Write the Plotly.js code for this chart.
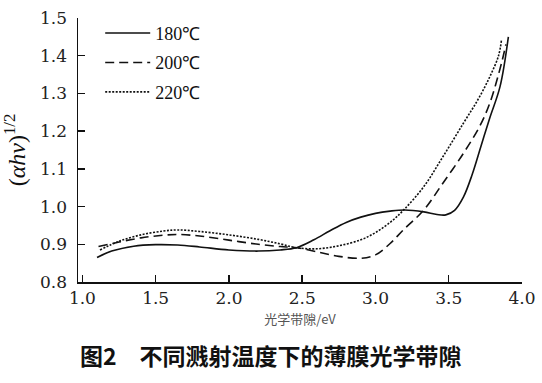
<!DOCTYPE html>
<html><head><meta charset="utf-8">
<script src="https://cdn.plot.ly/plotly-3.0.1.min.js"></script>
<style>html,body{margin:0;padding:0;background:#fff}#chart{width:542px;height:383px}</style>
</head><body><div id="chart"></div>
<script>
// Series: 180 ℃
var x180 = [1.10,1.20,1.35,1.50,1.65,1.80,2.00,2.20,2.35,2.46,2.58,2.69,2.80,2.90,3.00,3.10,3.20,3.33,3.42,3.48,3.54,3.60,3.66,3.72,3.78,3.85,3.907];
var y180 = [0.865,0.882,0.895,0.899,0.898,0.893,0.885,0.882,0.885,0.891,0.912,0.936,0.958,0.972,0.982,0.988,0.991,0.986,0.979,0.978,0.990,1.025,1.085,1.160,1.235,1.318,1.450];
// Series: 200 ℃
var x200 = [1.11,1.25,1.40,1.55,1.65,1.80,2.00,2.20,2.35,2.46,2.60,2.75,2.90,3.00,3.10,3.19,3.33,3.46,3.60,3.71,3.78,3.86,3.89];
var y200 = [0.894,0.906,0.917,0.924,0.926,0.922,0.911,0.900,0.894,0.891,0.880,0.868,0.863,0.872,0.902,0.938,0.991,1.062,1.141,1.212,1.274,1.380,1.430];
// Series: 220 ℃
var x220 = [1.12,1.25,1.40,1.55,1.65,1.80,2.00,2.20,2.35,2.46,2.60,2.75,2.90,3.00,3.10,3.19,3.33,3.46,3.60,3.70,3.78,3.84,3.86];
var y220 = [0.885,0.908,0.925,0.935,0.938,0.934,0.925,0.913,0.901,0.891,0.888,0.896,0.912,0.931,0.958,0.990,1.053,1.132,1.221,1.284,1.344,1.400,1.442];
var seriesNames = ['180\u2103','200\u2103','220\u2103'];
var xTickVals = [1.0,1.5,2.0,2.5,3.0,3.5,4.0];
var yTickVals = [0.8,0.9,1.0,1.1,1.2,1.3,1.4,1.5];
var xTickText = ['1.0','1.5','2.0','2.5','3.0','3.5','4.0'];
var yTickText = ['0.8','0.9','1.0','1.1','1.2','1.3','1.4','1.5'];

var serif = 'Liberation Serif';
function tr(x, y, name, dash, g) {
  return {x: x, y: y, name: name, type: 'scatter', mode: 'lines', legendgroup: g,
    line: {color: '#111', width: 1.6, dash: dash, shape: 'spline', smoothing: 1}};
}
var data = [
  tr(x180, y180, seriesNames[0], 'solid', 'a'),
  tr(x200, y200, seriesNames[1], '9px,5px', 'b'),
  tr(x220, y220, seriesNames[2], '2px,1.5px', 'c')
];
var layout = {
  width: 542, height: 383,
  font: {family: serif, size: 20, color: '#222'},
  margin: {l: 78, r: 20, t: 18, b: 101},
  paper_bgcolor: '#fff', plot_bgcolor: '#fff',
  showlegend: true,
  legend: {x: 0.05, y: 1.012, xanchor: 'left', yanchor: 'top', bgcolor: 'rgba(0,0,0,0)',
    traceorder: 'grouped', tracegroupgap: 3, itemwidth: 45,
    font: {family: serif, size: 18, color: '#111'}},
  xaxis: {range: [0.97, 4.0], tickmode: 'array', tickvals: xTickVals, ticktext: xTickText,
    showline: true, linecolor: '#111', linewidth: 1.5, ticks: 'inside', ticklen: 7, tickwidth: 1.5, tickcolor: '#111',
    showgrid: false, zeroline: false,
    tickfont: {family: 'DejaVu Serif', size: 17, color: '#222'},
    title: {text: '光学带隙/eV', standoff: 8, font: {family: 'Noto Sans CJK SC', size: 13, color: '#555'}}},
  yaxis: {range: [0.8, 1.5], tickmode: 'array', tickvals: yTickVals, ticktext: yTickText,
    showline: true, linecolor: '#111', linewidth: 1.5, ticks: 'inside', ticklen: 7, tickwidth: 1.5, tickcolor: '#111',
    showgrid: false, zeroline: false, ticklabelstandoff: 6,
    tickfont: {family: 'DejaVu Serif', size: 17, color: '#222'},
    title: {text: '(<i>αhv</i>)<sup>1/2</sup>', standoff: 8, font: {family: serif, size: 24, color: '#111'}}},
  annotations: [{
    text: '<b>图2\u3000不同溅射温度下的薄膜光学带隙</b>', xref: 'paper', yref: 'paper',
    x: 0.435, y: -0.2765, xanchor: 'center', yanchor: 'middle', showarrow: false,
    font: {family: 'Noto Sans CJK SC', size: 23, color: '#111'}
  }]
};
Plotly.newPlot('chart', data, layout, {staticPlot: true, displayModeBar: false});
</script></body></html>
